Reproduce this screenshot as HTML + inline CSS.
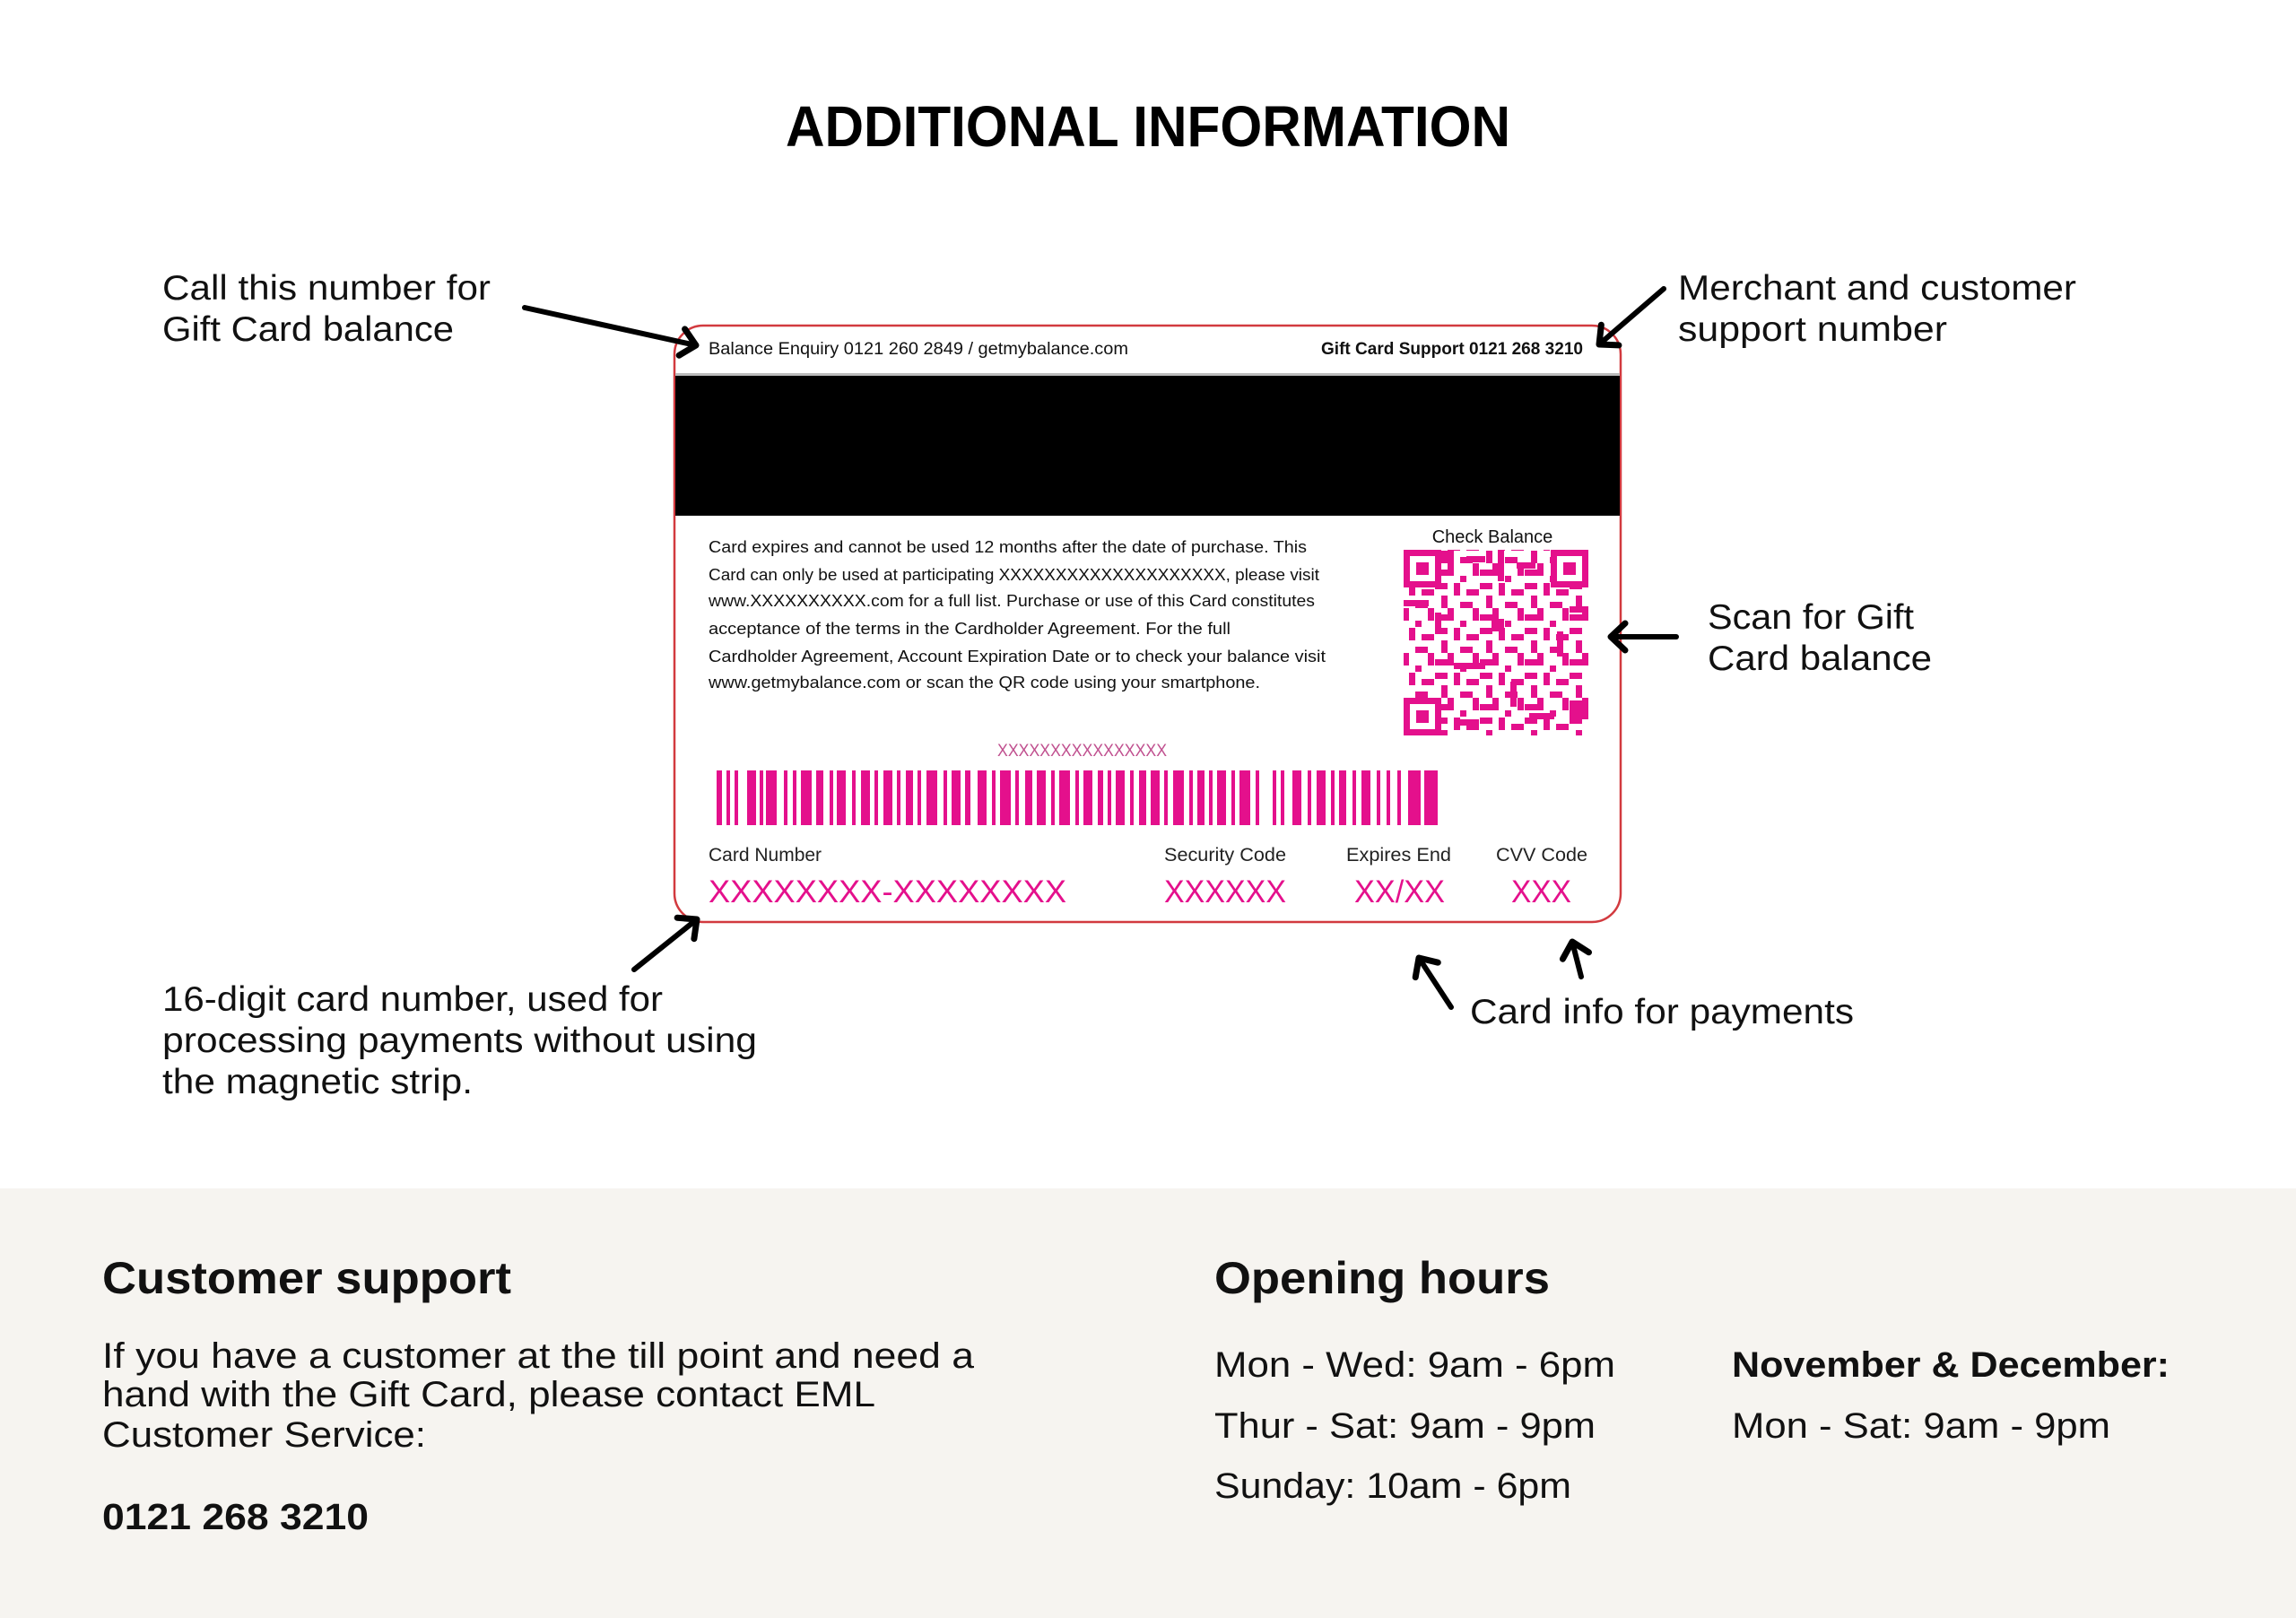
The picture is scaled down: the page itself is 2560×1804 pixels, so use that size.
<!DOCTYPE html>
<html><head><meta charset="utf-8"><style>
html,body{margin:0;padding:0;background:#fff}
svg{display:block}
</style></head><body>
<svg width="2560" height="1804" viewBox="0 0 2560 1804" xmlns="http://www.w3.org/2000/svg" font-family="Liberation Sans, sans-serif">
<defs>
<marker id="ah" markerWidth="30" markerHeight="40" refX="22" refY="20" orient="auto" markerUnits="userSpaceOnUse">
<path d="M6,5 L22,20 L6,35" fill="none" stroke="#000" stroke-width="7" stroke-linecap="round" stroke-linejoin="round"/>
</marker>
<pattern id="qrp" width="50" height="50" patternUnits="userSpaceOnUse">
<rect x="0" y="0" width="14" height="7" fill="#e4108c"/><rect x="21" y="0" width="7" height="14" fill="#e4108c"/>
<rect x="35" y="7" width="14" height="7" fill="#e4108c"/><rect x="7" y="14" width="7" height="14" fill="#e4108c"/>
<rect x="28" y="21" width="14" height="7" fill="#e4108c"/><rect x="0" y="35" width="21" height="7" fill="#e4108c"/>
<rect x="42" y="28" width="7" height="14" fill="#e4108c"/><rect x="28" y="42" width="7" height="7" fill="#e4108c"/>
<rect x="14" y="28" width="7" height="7" fill="#e4108c"/>
</pattern>
</defs>
<rect width="2560" height="1804" fill="#fff"/>
<text x="1280" y="163" font-size="64" font-weight="bold" text-anchor="middle" textLength="808" lengthAdjust="spacingAndGlyphs">ADDITIONAL INFORMATION</text>

<g font-size="39" fill="#111">
<text x="181" y="334" textLength="366" lengthAdjust="spacingAndGlyphs">Call this number for</text>
<text x="181" y="380" textLength="325" lengthAdjust="spacingAndGlyphs">Gift Card balance</text>
<text x="1871" y="334" textLength="444" lengthAdjust="spacingAndGlyphs">Merchant and customer</text>
<text x="1871" y="380" textLength="300" lengthAdjust="spacingAndGlyphs">support number</text>
<text x="1904" y="701" textLength="230" lengthAdjust="spacingAndGlyphs">Scan for Gift</text>
<text x="1904" y="747" textLength="250" lengthAdjust="spacingAndGlyphs">Card balance</text>
<text x="181" y="1127" textLength="558" lengthAdjust="spacingAndGlyphs">16-digit card number, used for</text>
<text x="181" y="1173" textLength="663" lengthAdjust="spacingAndGlyphs">processing payments without using</text>
<text x="181" y="1219" textLength="346" lengthAdjust="spacingAndGlyphs">the magnetic strip.</text>
<text x="1639" y="1141" textLength="428" lengthAdjust="spacingAndGlyphs">Card info for payments</text>
</g>

<rect x="752" y="363" width="1055" height="665" rx="32" fill="#fff" stroke="#d23a3f" stroke-width="2.5"/>
<rect x="753" y="416" width="1053" height="4" fill="#bbb"/>
<rect x="753" y="419" width="1053" height="156" fill="#000"/>
<text x="790" y="395" font-size="19" textLength="468" lengthAdjust="spacingAndGlyphs" fill="#111">Balance Enquiry  0121 260 2849 / getmybalance.com</text>
<text x="1765" y="395" font-size="19" font-weight="bold" text-anchor="end" textLength="292" lengthAdjust="spacingAndGlyphs" fill="#111">Gift Card Support 0121 268 3210</text>
<g font-size="18.5" fill="#111">
<text x="790" y="616" textLength="667" lengthAdjust="spacingAndGlyphs">Card expires and cannot be used 12 months after the date of purchase. This</text>
<text x="790" y="647" textLength="681" lengthAdjust="spacingAndGlyphs">Card can only be used at participating XXXXXXXXXXXXXXXXXXXX, please visit</text>
<text x="790" y="676" textLength="676" lengthAdjust="spacingAndGlyphs">www.XXXXXXXXXX.com for a full list. Purchase or use of this Card constitutes</text>
<text x="790" y="707" textLength="582" lengthAdjust="spacingAndGlyphs">acceptance of the terms in the Cardholder Agreement. For the full</text>
<text x="790" y="738" textLength="688" lengthAdjust="spacingAndGlyphs">Cardholder Agreement, Account Expiration Date or to check your balance visit</text>
<text x="790" y="767" textLength="615" lengthAdjust="spacingAndGlyphs">www.getmybalance.com or scan the QR code using your smartphone.</text>
</g>
<text x="1664" y="605" font-size="20" text-anchor="middle" fill="#111">Check Balance</text>
<rect x="1565" y="613" width="206" height="207" fill="url(#qrp)"/>
<g fill="#e4108c">
<rect x="1565" y="613" width="42" height="42" fill="#fff"/><rect x="1729" y="613" width="42" height="42" fill="#fff"/><rect x="1565" y="778" width="42" height="42" fill="#fff"/>
<path d="M1565 613h42v42h-42zM1572 620v28h28v-28z" fill-rule="evenodd"/><rect x="1579" y="627" width="14" height="14"/>
<path d="M1729 613h42v42h-42zM1736 620v28h28v-28z" fill-rule="evenodd"/><rect x="1743" y="627" width="14" height="14"/>
<path d="M1565 778h42v42h-42zM1572 785v28h28v-28z" fill-rule="evenodd"/><rect x="1579" y="792" width="14" height="14"/>
<rect x="1614" y="613" width="7" height="28"/><rect x="1635" y="620" width="21" height="7"/><rect x="1670" y="613" width="7" height="35"/><rect x="1691" y="627" width="21" height="7"/>
<rect x="1565" y="669" width="28" height="7"/><rect x="1600" y="683" width="7" height="21"/><rect x="1750" y="676" width="21" height="7"/><rect x="1736" y="704" width="7" height="28"/>
<rect x="1621" y="739" width="35" height="7"/><rect x="1684" y="760" width="7" height="28"/><rect x="1705" y="795" width="28" height="7"/><rect x="1750" y="781" width="21" height="21"/>
<rect x="1628" y="802" width="21" height="7"/><rect x="1663" y="690" width="14" height="14"/>
</g>
<text x="1112" y="843" font-size="19" fill="#c0508f" textLength="189" lengthAdjust="spacingAndGlyphs">XXXXXXXXXXXXXXXX</text>
<g fill="#e4108c">
<rect x="799" y="859" width="6" height="61"/><rect x="810" y="859" width="4" height="61"/><rect x="819" y="859" width="4" height="61"/>
<rect x="833" y="859" width="10" height="61"/><rect x="847" y="859" width="4" height="61"/><rect x="854" y="859" width="12" height="61"/>
<rect x="874" y="859" width="4" height="61"/><rect x="884" y="859" width="4" height="61"/><rect x="893" y="859" width="12" height="61"/>
<rect x="910" y="859" width="8" height="61"/><rect x="925" y="859" width="4" height="61"/><rect x="933" y="859" width="10" height="61"/>
<rect x="950" y="859" width="4" height="61"/><rect x="960" y="859" width="10" height="61"/><rect x="975" y="859" width="4" height="61"/>
<rect x="985" y="859" width="10" height="61"/><rect x="1000" y="859" width="4" height="61"/><rect x="1010" y="859" width="8" height="61"/>
<rect x="1023" y="859" width="4" height="61"/><rect x="1033" y="859" width="12" height="61"/><rect x="1052" y="859" width="4" height="61"/>
<rect x="1061" y="859" width="10" height="61"/><rect x="1076" y="859" width="6" height="61"/><rect x="1090" y="859" width="10" height="61"/>
<rect x="1106" y="859" width="4" height="61"/><rect x="1115" y="859" width="12" height="61"/><rect x="1132" y="859" width="4" height="61"/>
<rect x="1143" y="859" width="8" height="61"/><rect x="1156" y="859" width="10" height="61"/><rect x="1172" y="859" width="4" height="61"/>
<rect x="1181" y="859" width="12" height="61"/><rect x="1199" y="859" width="4" height="61"/><rect x="1208" y="859" width="10" height="61"/>
<rect x="1224" y="859" width="6" height="61"/><rect x="1235" y="859" width="4" height="61"/><rect x="1244" y="859" width="10" height="61"/>
<rect x="1260" y="859" width="4" height="61"/><rect x="1270" y="859" width="8" height="61"/><rect x="1283" y="859" width="10" height="61"/>
<rect x="1298" y="859" width="4" height="61"/><rect x="1308" y="859" width="12" height="61"/><rect x="1326" y="859" width="4" height="61"/>
<rect x="1335" y="859" width="8" height="61"/><rect x="1348" y="859" width="4" height="61"/><rect x="1357" y="859" width="10" height="61"/>
<rect x="1373" y="859" width="4" height="61"/><rect x="1382" y="859" width="12" height="61"/><rect x="1400" y="859" width="4" height="61"/>
<rect x="1419" y="859" width="4" height="61"/><rect x="1428" y="859" width="4" height="61"/><rect x="1441" y="859" width="10" height="61"/>
<rect x="1458" y="859" width="4" height="61"/><rect x="1468" y="859" width="10" height="61"/><rect x="1484" y="859" width="4" height="61"/>
<rect x="1493" y="859" width="8" height="61"/><rect x="1508" y="859" width="4" height="61"/><rect x="1518" y="859" width="10" height="61"/>
<rect x="1535" y="859" width="4" height="61"/><rect x="1546" y="859" width="4" height="61"/><rect x="1558" y="859" width="4" height="61"/>
<rect x="1570" y="859" width="14" height="61"/><rect x="1588" y="859" width="15" height="61"/>
</g>
<g font-size="21" fill="#222">
<text x="790" y="960">Card Number</text>
<text x="1298" y="960" textLength="136" lengthAdjust="spacingAndGlyphs">Security Code</text>
<text x="1501" y="960" textLength="117" lengthAdjust="spacingAndGlyphs">Expires End</text>
<text x="1668" y="960" textLength="102" lengthAdjust="spacingAndGlyphs">CVV Code</text>
</g>
<g font-size="35" fill="#e4108c">
<text x="790" y="1006" textLength="399" lengthAdjust="spacingAndGlyphs">XXXXXXXX-XXXXXXXX</text>
<text x="1298" y="1006" textLength="136" lengthAdjust="spacingAndGlyphs">XXXXXX</text>
<text x="1510" y="1006" textLength="101" lengthAdjust="spacingAndGlyphs">XX/XX</text>
<text x="1685" y="1006" textLength="67" lengthAdjust="spacingAndGlyphs">XXX</text>
</g>

<g stroke="#000" stroke-width="6" stroke-linecap="round" fill="none" marker-end="url(#ah)">
<line x1="585" y1="343" x2="776" y2="385"/>
<line x1="1855" y1="322" x2="1783" y2="384"/>
<line x1="1869" y1="710" x2="1796" y2="710"/>
<line x1="707" y1="1081" x2="777" y2="1025"/>
<line x1="1618" y1="1123" x2="1582" y2="1068"/>
<line x1="1763" y1="1089" x2="1753" y2="1050"/>
</g>

<rect x="0" y="1325" width="2560" height="479" fill="#f6f4f0"/>
<g fill="#111">
<text x="114" y="1442" font-size="50" font-weight="bold" textLength="456" lengthAdjust="spacingAndGlyphs">Customer support</text>
<text x="114" y="1525" font-size="40" textLength="972" lengthAdjust="spacingAndGlyphs">If you have a customer at the till point and need a</text>
<text x="114" y="1568" font-size="40" textLength="862" lengthAdjust="spacingAndGlyphs">hand with the Gift Card, please contact EML</text>
<text x="114" y="1613" font-size="40" textLength="361" lengthAdjust="spacingAndGlyphs">Customer Service:</text>
<text x="114" y="1705" font-size="41" font-weight="bold" textLength="297" lengthAdjust="spacingAndGlyphs">0121 268 3210</text>
<text x="1354" y="1442" font-size="50" font-weight="bold" textLength="374" lengthAdjust="spacingAndGlyphs">Opening hours</text>
<text x="1354" y="1535" font-size="40" textLength="447" lengthAdjust="spacingAndGlyphs">Mon - Wed: 9am - 6pm</text>
<text x="1354" y="1603" font-size="40" textLength="425" lengthAdjust="spacingAndGlyphs">Thur - Sat: 9am - 9pm</text>
<text x="1354" y="1670" font-size="40" textLength="398" lengthAdjust="spacingAndGlyphs">Sunday: 10am - 6pm</text>
<text x="1931" y="1535" font-size="40" font-weight="bold" textLength="488" lengthAdjust="spacingAndGlyphs">November &amp; December:</text>
<text x="1931" y="1603" font-size="40" textLength="422" lengthAdjust="spacingAndGlyphs">Mon - Sat: 9am - 9pm</text>
</g>
</svg>
</body></html>
